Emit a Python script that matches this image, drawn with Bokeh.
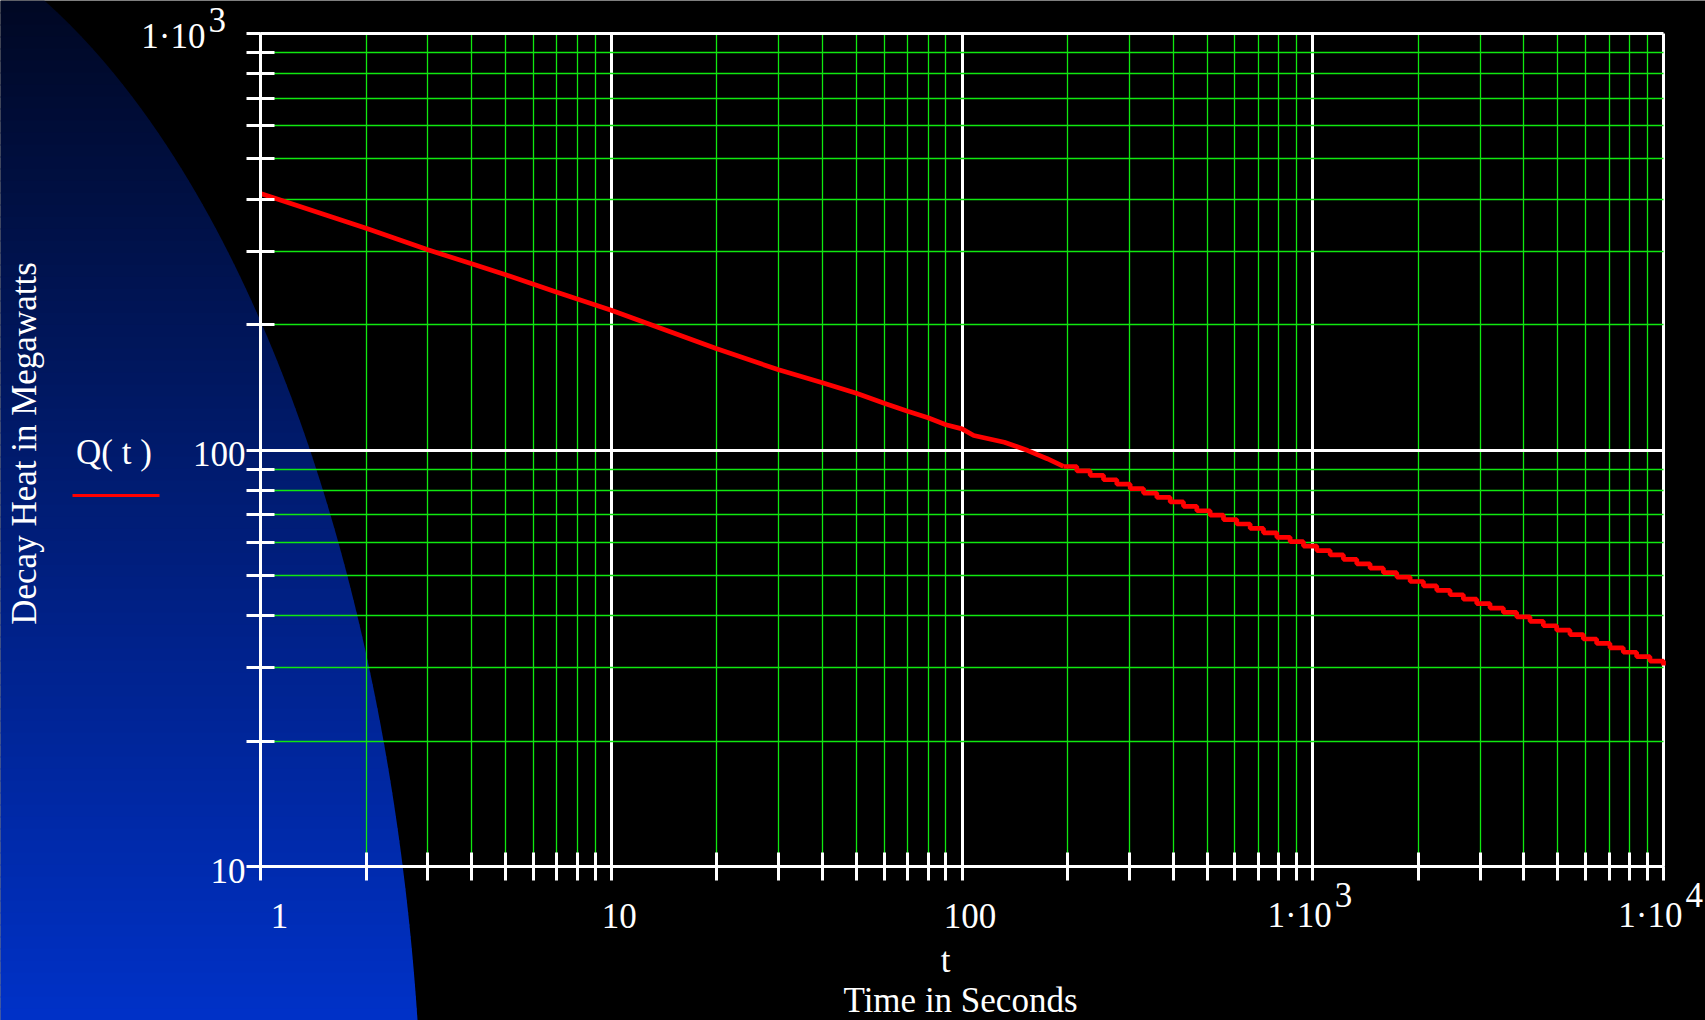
import numpy as np
from bokeh.plotting import figure
from bokeh.models import Range1d, FixedTicker, Label, PolyAnnotation, LogAxis
from bokeh.embed import file_html
from bokeh.resources import INLINE

# ---------------- data ----------------
x_major = [1, 10, 100, 1000, 10000]
y_major = [10, 100, 1000]
mantissas = [2, 3, 4, 5, 6, 7, 8, 9]
x_minor = [m * d for d in [1, 10, 100, 1000] for m in mantissas]
y_minor = [m * d for d in [10, 100] for m in mantissas]

# smooth part of Q(t)
t_smooth = [1, 2, 3, 4, 5, 7, 10, 20, 30, 40, 50, 60, 70, 80, 90, 100, 108, 132, 154, 175, 194.7]
q_smooth = [412.8, 340.8, 302.5, 279.9, 263.4, 239.3, 216.5, 175.0, 155.8, 145.0, 136.9,
            129.5, 123.9, 119.5, 115.0, 112.4, 108.3, 104.4, 99.7, 95.3, 91.3]

# stair-stepped part of Q(t)
t_steps = [194.7, 212.5, 231.9, 253.2, 276.3, 301.6, 329.2, 359.3, 392.2, 428.0,
           467.2, 509.9, 556.5, 607.4, 663.0, 723.6, 789.8, 862.0, 940.9, 1027,
           1121, 1223, 1335, 1457, 1590, 1736, 1895, 2068, 2257, 2463,
           2688, 2934, 3202, 3495, 3814, 4163, 4543, 4959, 5412, 5907,
           6447, 7037, 7680, 8383, 9150, 10000]
q_steps = [91.29, 89.10, 86.94, 84.84, 82.79, 80.78, 78.83, 76.93, 75.06, 73.24,
           71.48, 69.75, 68.08, 66.42, 64.81, 63.25, 61.72, 60.25, 58.78, 57.36,
           55.98, 54.63, 53.31, 52.02, 50.76, 49.54, 48.34, 47.18, 46.03, 44.92,
           43.84, 42.78, 41.74, 40.73, 39.75, 38.79, 37.85, 36.94, 36.04, 35.17,
           34.32, 33.50, 32.69, 31.90, 31.13, 30.39]

x_tick_labels = ["1", "10", "100", "1·10", "1·10"]
x_tick_sup = {1000: "3", 10000: "4"}
y_tick_labels = ["10", "100", "1·10"]
y_tick_sup = {1000: "3"}

x_title = "t"
x_subtitle = "Time in Seconds"
y_title = "Decay Heat in Megawatts"
legend_label = "Q( t )"

# ---------------- layout (pixels) ----------------
W, H = 1705, 1020
PL, PR, PT, PB = 260, 1663, 33, 866      # plot area in canvas pixels
PW, PH = PR - PL, PB - PT
XDEC = PW / 4.0                           # px per decade in x (1 .. 1e4)
YDEC = PH / 2.0                           # px per decade in y (10 .. 1000)
x_start = 10 ** ((0 - PL) / XDEC)
x_end = 10 ** ((W - PL) / XDEC)
y_start = 10 ** (1 - (H - PB) / YDEC)
y_end = 10 ** (3 + PT / YDEC)

FONT = "Liberation Serif"
FS = "35px"
GREEN = "#10e810"
SHIFT = 13   # baseline correction for text placement

p = figure(width=W, height=H, x_axis_type="log", y_axis_type="log",
           x_axis_location=None, y_axis_location=None,
           x_range=Range1d(x_start, x_end), y_range=Range1d(y_start, y_end),
           output_backend="svg", toolbar_location=None, min_border=0,
           background_fill_color="black", border_fill_color="black",
           outline_line_color=None)
p.center = []   # no full-frame grids; the grid is drawn by the axes' long ticks


def sx(xp):
    return xp


def sy(yp):
    return H - yp


# blue elliptical gradient backdrop (decoration)
ecx, ecy, ea, eb = -200.0, 1200.0, 623.0, 1304.0
band = 12
for y0 in range(0, H, band):
    y1 = min(y0 + band + 1, H + 2)
    ys_page = np.linspace(y0, y1, 5)
    xs_page = ecx + ea * np.sqrt(np.clip(1 - ((ys_page - ecy) / eb) ** 2, 0, None))
    frac = (y0 + band / 2) / float(H)
    col = "#%02x%02x%02x" % (0, int(8 + 42 * frac), int(36 + 164 * frac))
    px = [-10.0] + [float(v) for v in xs_page] + [-10.0]
    py = [float(y0)] + [float(v) for v in ys_page] + [float(y1)]
    p.add_layout(PolyAnnotation(xs=[sx(v) for v in px], ys=[sy(v) for v in py],
                                xs_units="screen", ys_units="screen",
                                fill_color=col, fill_alpha=1.0, line_alpha=0,
                                level="image"))


def log_axis(ticks, minors, loc, bounds, tick_in, minor_color, minor_width,
             line_color, level):
    ax = LogAxis(ticker=FixedTicker(ticks=ticks, minor_ticks=minors),
                 fixed_location=loc, bounds=bounds)
    ax.axis_line_color = line_color
    ax.axis_line_width = 3
    ax.major_tick_line_color = "white"
    ax.major_tick_line_width = 3
    ax.major_tick_in = int(tick_in)
    ax.major_tick_out = 0
    ax.minor_tick_line_color = minor_color
    ax.minor_tick_line_width = minor_width
    ax.minor_tick_in = int(tick_in)
    ax.minor_tick_out = 0
    ax.major_label_overrides = {v: "" for v in ticks}
    ax.major_label_text_font_size = "0px"
    ax.major_label_standoff = 0
    ax.level = level
    return ax


# grid-like long ticks (white decades, green minors), below the curve
p.add_layout(log_axis(x_major, x_minor, 10, (1, 10000), PH, GREEN, 1.3, "white", "underlay"), "below")
p.add_layout(log_axis(y_major, y_minor, 1, (10, 1000), PW, GREEN, 1.3, "white", "underlay"), "left")
# short white tick marks crossing the axes
p.add_layout(log_axis(x_major, x_minor, 10, (1, 10000), 14, "white", 3, "white", "guide"), "below")
p.add_layout(log_axis(x_major, x_minor, 10, (1, 10000), 14, "white", 3, "white", "guide"), "above")
p.add_layout(log_axis(y_major, y_minor, 1, (10, 1000), 14, "white", 3, "white", "guide"), "left")
p.add_layout(log_axis(y_major, y_minor, 1, (10, 1000), 14, "white", 3, "white", "guide"), "right")

# the curve
p.line(t_smooth, q_smooth, line_color="#ff0000", line_width=4.7)
p.step(t_steps, q_steps, mode="after", line_color="#ff0000", line_width=4.7)

TXT = dict(text_font=FONT, text_font_size=FS, text_color="white")

# x tick labels
x_off = {1: 19, 10: 8, 100: 8}
for v, lab in zip(x_major, x_tick_labels):
    if v in x_tick_sup:
        p.add_layout(Label(x=v, y=10, text=lab, x_offset=19, y_offset=-62 + SHIFT,
                           text_align="right", text_baseline="alphabetic", **TXT))
        p.add_layout(Label(x=v, y=10, text=x_tick_sup[v], x_offset=22, y_offset=-41 + SHIFT,
                           text_align="left", text_baseline="alphabetic", **TXT))
    else:
        p.add_layout(Label(x=v, y=10, text=lab, x_offset=x_off[v], y_offset=-62 + SHIFT,
                           text_align="center", text_baseline="alphabetic", **TXT))

# y tick labels
for v, lab in zip(y_major, y_tick_labels):
    if v in y_tick_sup:
        p.add_layout(Label(x=1, y=v, text=lab, x_offset=-55, y_offset=-16 + SHIFT,
                           text_align="right", text_baseline="alphabetic", **TXT))
        p.add_layout(Label(x=1, y=v, text=y_tick_sup[v], x_offset=-52, y_offset=1 + SHIFT,
                           text_align="left", text_baseline="alphabetic", **TXT))
    else:
        p.add_layout(Label(x=1, y=v, text=lab, x_offset=-15, y_offset=-17 + SHIFT,
                           text_align="right", text_baseline="alphabetic", **TXT))

# axis titles
p.add_layout(Label(x=sx(945), y=sy(973 - SHIFT), x_units="screen", y_units="screen", text=x_title,
                   text_align="center", text_baseline="alphabetic", **TXT))
p.add_layout(Label(x=sx(960), y=sy(1013 - SHIFT), x_units="screen", y_units="screen", text=x_subtitle,
                   text_align="center", text_baseline="alphabetic", **TXT))
p.add_layout(Label(x=sx(37 - SHIFT), y=sy(443), x_units="screen", y_units="screen", text=y_title,
                   angle=np.pi / 2, text_align="center", text_baseline="alphabetic", **TXT))

# legend
p.add_layout(Label(x=sx(113.5), y=sy(465 - SHIFT), x_units="screen", y_units="screen", text=legend_label,
                   text_align="center", text_baseline="alphabetic", **TXT))
p.add_layout(PolyAnnotation(xs=[sx(72), sx(159), sx(159), sx(72)],
                            ys=[sy(493.5), sy(493.5), sy(496.5), sy(496.5)],
                            xs_units="screen", ys_units="screen",
                            fill_color="#ff0000", fill_alpha=1.0, line_alpha=0))

html = file_html(p, INLINE, title="Decay Heat")
html = html.replace("<body>", '<body style="background-color:#000000;">', 1)
open("out.html", "w").write(html)
